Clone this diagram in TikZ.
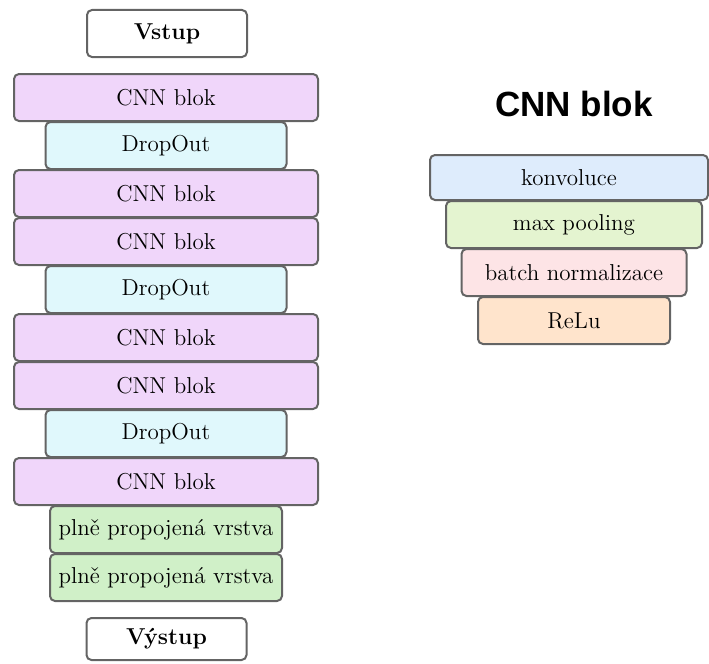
\documentclass[tikz,border=0pt]{standalone}
\usepackage{fontspec}
\usetikzlibrary{positioning}
\newfontfamily\titlefont{Liberation Sans}
\definecolor{cnnfill}{RGB}{240, 214, 250}
\definecolor{dropfill}{RGB}{224, 248, 252}
\definecolor{fcfill}{RGB}{208, 240, 200}
\definecolor{konvfill}{RGB}{222, 236, 252}
\definecolor{poolfill}{RGB}{228, 244, 208}
\definecolor{normfill}{RGB}{253, 228, 230}
\definecolor{relufill}{RGB}{255, 228, 204}
\definecolor{okraj}{RGB}{100, 100, 100}

\begin{document}
\begin{tikzpicture}[
    x=0.5pt, y=-0.5pt,
    vrstva/.style={rectangle, rounded corners=2.5pt, draw=okraj, line width=1pt,
                   minimum height=23.5pt, inner sep=1pt, outer sep=0pt, align=center,
                   font=\fontsize{11.5}{13}\selectfont},
    cnn/.style={vrstva, fill=cnnfill, minimum width=152pt},
    drop/.style={vrstva, fill=dropfill, minimum width=120.5pt},
    fc/.style={vrstva, fill=fcfill, minimum width=116pt},
    io/.style={vrstva, fill=white, minimum width=80pt, font=\fontsize{11.5}{13}\selectfont\bfseries}
]
\useasboundingbox (0,0) rectangle (709,664);

% Left column: the network
\node[io] (vstup) at (167, 33.5) {Vstup};
\node[cnn] (cnn1) at (166, 97.5) {CNN blok};
\node[drop, below=0.5pt of cnn1] (drop1) {DropOut};
\node[cnn, below=0.5pt of drop1] (cnn2) {CNN blok};
\node[cnn, below=0.5pt of cnn2] (cnn3) {CNN blok};
\node[drop, below=0.5pt of cnn3] (drop2) {DropOut};
\node[cnn, below=0.5pt of drop2] (cnn4) {CNN blok};
\node[cnn, below=0.5pt of cnn4] (cnn5) {CNN blok};
\node[drop, below=0.5pt of cnn5] (drop3) {DropOut};
\node[cnn, below=0.5pt of drop3] (cnn6) {CNN blok};
\node[fc, below=0.5pt of cnn6] (fc1) {plně propojená vrstva};
\node[fc, below=0.5pt of fc1] (fc2) {plně propojená vrstva};
\node[io, minimum height=21pt] (vystup) at (166.5, 639) {Výstup};

% Right column: inside one CNN block
\node[font=\titlefont\fontsize{17.5}{20}\selectfont\bfseries, anchor=base] (nadpis) at (574, 117) {CNN blok};
\node[vrstva, fill=konvfill, minimum width=139pt, minimum height=22.5pt] (konv) at (569, 177.5) {konvoluce};
\node[vrstva, fill=poolfill, minimum width=128pt, below=0.5pt of konv.south, anchor=north, xshift=2.5pt] (pool) {max pooling};
\node[vrstva, fill=normfill, minimum width=112.5pt, below=0.5pt of pool] (norm) {batch normalizace};
\node[vrstva, fill=relufill, minimum width=96pt, below=0.5pt of norm] (relu) {ReLu};

\end{tikzpicture}
\end{document}
